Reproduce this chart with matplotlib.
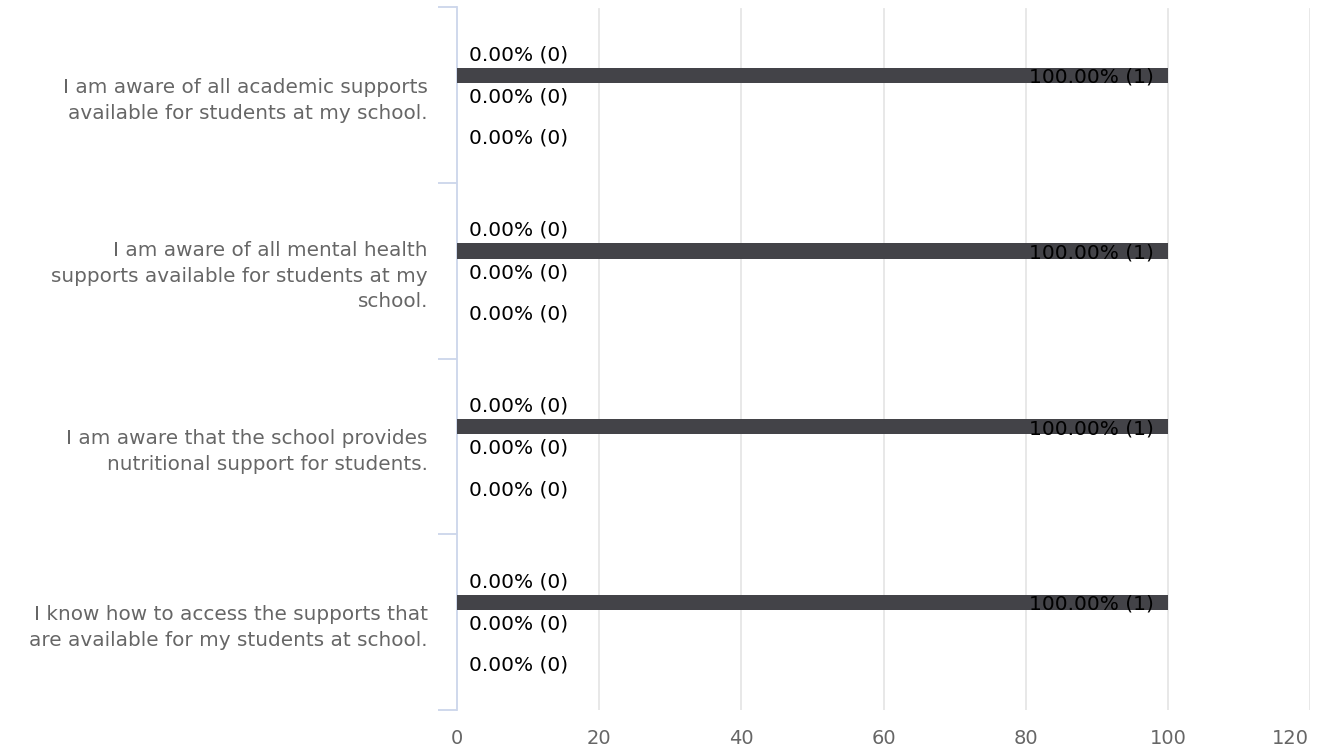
import matplotlib
matplotlib.use("Agg")
import matplotlib.pyplot as plt
import matplotlib.transforms as mtransforms
import numpy as np

# --- DATA ---
statements = [
    "I am aware of all academic supports\navailable for students at my school.",
    "I am aware of all mental health\nsupports available for students at my\nschool.",
    "I am aware that the school provides\nnutritional support for students.",
    "I know how to access the supports that\nare available for my students at school.",
]
# four answer series, percent and count per statement
pct_s1 = [0.0, 0.0, 0.0, 0.0]
pct_s2 = [100.0, 100.0, 100.0, 100.0]
pct_s3 = [0.0, 0.0, 0.0, 0.0]
pct_s4 = [0.0, 0.0, 0.0, 0.0]
cnt_s1 = [0, 0, 0, 0]
cnt_s2 = [1, 1, 1, 1]
cnt_s3 = [0, 0, 0, 0]
cnt_s4 = [0, 0, 0, 0]
x_ticks = [0, 20, 40, 60, 80, 100, 120]

# --- STYLE ---
BAR_COLOR = "#434348"
GRID = "#e6e6e6"
AXIS = "#ccd6eb"
TXT = "#666666"
offsets = [-0.24, -0.112, 0.0, 0.235]
bar_h = 0.087

plt.rcParams["font.family"] = ["DejaVu Sans"]

fig = plt.figure(figsize=(13.23, 7.54), dpi=100)
ax = fig.add_axes([457 / 1323, 1 - 710 / 754, (1310 - 457) / 1323, (710 - 7) / 754])

pcts = [pct_s1, pct_s2, pct_s3, pct_s4]
cnts = [cnt_s1, cnt_s2, cnt_s3, cnt_s4]
centers = np.arange(len(statements)) + 0.5

for k, (vals, counts) in enumerate(zip(pcts, cnts)):
    ys = centers + offsets[k]
    ax.barh(ys, vals, height=bar_h, color=BAR_COLOR, zorder=3)
    for y, v, c in zip(ys, vals, counts):
        lab = f"{v:.2f}% ({c})"
        if v >= 100:
            ax.annotate(lab, (v, y), xytext=(-10, 0), textcoords="offset points",
                        ha="right", va="center_baseline", fontsize=14.5, color="#000000", zorder=4)
        else:
            ax.annotate(lab, (v, y), xytext=(8.5, 0), textcoords="offset points",
                        ha="left", va="center_baseline", fontsize=14.5, color="#000000", zorder=4)

ax.set_xlim(0, 120)
ax.set_ylim(len(statements), 0)

ax.set_xticks(x_ticks)
ax.set_xticklabels([str(t) for t in x_ticks], color=TXT, fontsize=14)
ax.tick_params(axis="x", length=0, pad=14)
# last label pulled in so it stays inside the canvas
last = ax.get_xticklabels()[-1]
last.set_transform(last.get_transform() + mtransforms.ScaledTranslation(-20 / 100, 0, fig.dpi_scale_trans))
for t in x_ticks[1:]:
    ax.axvline(t, color=GRID, linewidth=1.3, zorder=1, ymax=1 - 2 / 703)

ax.set_yticks(centers)
ax.set_yticklabels(statements, color=TXT, fontsize=14.4, linespacing=1.45)
ax.tick_params(axis="y", which="major", length=0, pad=21)
ax.set_yticks(np.arange(len(statements) + 1), minor=True)
ax.tick_params(axis="y", which="minor", length=14, width=1.3, color=AXIS)

for s in ["top", "right", "bottom"]:
    ax.spines[s].set_visible(False)
ax.spines["left"].set_color(AXIS)
ax.spines["left"].set_linewidth(1.3)

fig.savefig("out.png", dpi=100)
